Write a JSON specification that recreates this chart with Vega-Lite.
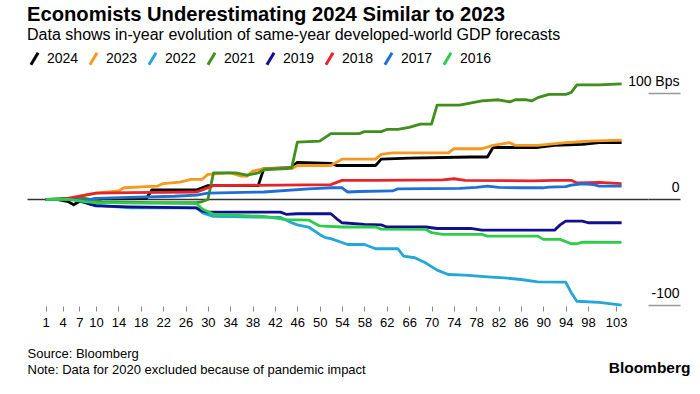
{
"$schema":"https://vega.github.io/schema/vega-lite/v6.json",
"width":621,"height":232,
"autosize":{"type":"none"},
"padding":{"left":27,"top":74,"right":52,"bottom":88},
"background":"white",
"config":{"view":{"stroke":null},"font":"Liberation Sans"},
"title":{"text":"Economists Underestimating 2024 Similar to 2023","subtitle":"Data shows in-year evolution of same-year developed-world GDP forecasts","anchor":"start","frame":"group","fontSize":20.2,"fontWeight":"bold","color":"#000","subtitleFontSize":16,"subtitleColor":"#000","subtitlePadding":2,"offset":8},
"data":{"values":[
{"s":"2024","w":1,"v":0},{"s":"2024","w":3,"v":0},{"s":"2024","w":5,"v":-2},{"s":"2024","w":6,"v":-5},{"s":"2024","w":7,"v":-2},{"s":"2024","w":9,"v":-1},{"s":"2024","w":10,"v":1},{"s":"2024","w":19,"v":1},{"s":"2024","w":20,"v":9},{"s":"2024","w":28,"v":9},{"s":"2024","w":29,"v":11},{"s":"2024","w":30,"v":13},{"s":"2024","w":39,"v":13},{"s":"2024","w":40,"v":29},{"s":"2024","w":45,"v":30},{"s":"2024","w":46,"v":35},{"s":"2024","w":52,"v":34},{"s":"2024","w":53,"v":32},{"s":"2024","w":60,"v":32},{"s":"2024","w":61,"v":38},{"s":"2024","w":66,"v":39},{"s":"2024","w":77,"v":40},{"s":"2024","w":80,"v":40},{"s":"2024","w":81,"v":49},{"s":"2024","w":89,"v":49},{"s":"2024","w":92,"v":51},{"s":"2024","w":97,"v":52},{"s":"2024","w":100,"v":53.5},{"s":"2024","w":104,"v":53.5},
{"s":"2023","w":1,"v":0},{"s":"2023","w":4,"v":0},{"s":"2023","w":5,"v":1},{"s":"2023","w":8,"v":4},{"s":"2023","w":10,"v":6},{"s":"2023","w":14,"v":8},{"s":"2023","w":15,"v":11},{"s":"2023","w":21,"v":12.6},{"s":"2023","w":22,"v":15},{"s":"2023","w":25,"v":16.4},{"s":"2023","w":27,"v":19},{"s":"2023","w":29,"v":19},{"s":"2023","w":30,"v":23.6},{"s":"2023","w":34,"v":25},{"s":"2023","w":36,"v":22},{"s":"2023","w":37,"v":22},{"s":"2023","w":38,"v":26.7},{"s":"2023","w":40,"v":29},{"s":"2023","w":45,"v":29},{"s":"2023","w":46,"v":32},{"s":"2023","w":52,"v":32},{"s":"2023","w":54,"v":38},{"s":"2023","w":60,"v":38},{"s":"2023","w":61,"v":42.5},{"s":"2023","w":63,"v":44},{"s":"2023","w":73,"v":44},{"s":"2023","w":74,"v":47.8},{"s":"2023","w":79,"v":47.8},{"s":"2023","w":81,"v":51},{"s":"2023","w":84,"v":53.5},{"s":"2023","w":85,"v":51},{"s":"2023","w":89,"v":51},{"s":"2023","w":94,"v":53.5},{"s":"2023","w":98,"v":55},{"s":"2023","w":104,"v":56},
{"s":"2022","w":1,"v":0},{"s":"2022","w":7,"v":0},{"s":"2022","w":8,"v":-2},{"s":"2022","w":9,"v":-4.7},{"s":"2022","w":12,"v":-6.3},{"s":"2022","w":16,"v":-8},{"s":"2022","w":28,"v":-8},{"s":"2022","w":29,"v":-12.6},{"s":"2022","w":31,"v":-16},{"s":"2022","w":43,"v":-17},{"s":"2022","w":45,"v":-22},{"s":"2022","w":46,"v":-24},{"s":"2022","w":48,"v":-26},{"s":"2022","w":50,"v":-33},{"s":"2022","w":51,"v":-36},{"s":"2022","w":52,"v":-37},{"s":"2022","w":55,"v":-42.5},{"s":"2022","w":58,"v":-42.5},{"s":"2022","w":60,"v":-46.5},{"s":"2022","w":64,"v":-46.5},{"s":"2022","w":65,"v":-53.5},{"s":"2022","w":67,"v":-55},{"s":"2022","w":69,"v":-60},{"s":"2022","w":71,"v":-66.7},{"s":"2022","w":73,"v":-70.8},{"s":"2022","w":76,"v":-71.4},{"s":"2022","w":80,"v":-73},{"s":"2022","w":83,"v":-74},{"s":"2022","w":86,"v":-75.5},{"s":"2022","w":89,"v":-77.7},{"s":"2022","w":94,"v":-78},{"s":"2022","w":95,"v":-88},{"s":"2022","w":96,"v":-96},{"s":"2022","w":100,"v":-97},{"s":"2022","w":104,"v":-99.7},
{"s":"2021","w":1,"v":0},{"s":"2021","w":4,"v":1},{"s":"2021","w":8,"v":1},{"s":"2021","w":11,"v":-2},{"s":"2021","w":20,"v":-3},{"s":"2021","w":28,"v":-3},{"s":"2021","w":29,"v":-2},{"s":"2021","w":30,"v":0},{"s":"2021","w":31,"v":25},{"s":"2021","w":35,"v":25},{"s":"2021","w":37,"v":23},{"s":"2021","w":39,"v":25},{"s":"2021","w":40,"v":28},{"s":"2021","w":44,"v":29},{"s":"2021","w":45,"v":30},{"s":"2021","w":46,"v":54},{"s":"2021","w":50,"v":55},{"s":"2021","w":52,"v":62},{"s":"2021","w":57,"v":62},{"s":"2021","w":58,"v":64},{"s":"2021","w":61,"v":64},{"s":"2021","w":62,"v":66},{"s":"2021","w":64,"v":66},{"s":"2021","w":66,"v":68},{"s":"2021","w":68,"v":71},{"s":"2021","w":70,"v":71},{"s":"2021","w":71,"v":89},{"s":"2021","w":75,"v":89},{"s":"2021","w":79,"v":93},{"s":"2021","w":82,"v":94},{"s":"2021","w":84,"v":92},{"s":"2021","w":85,"v":94},{"s":"2021","w":87,"v":94},{"s":"2021","w":88,"v":93},{"s":"2021","w":89,"v":96},{"s":"2021","w":91,"v":99},{"s":"2021","w":94,"v":99},{"s":"2021","w":95,"v":101},{"s":"2021","w":96,"v":108},{"s":"2021","w":100,"v":108},{"s":"2021","w":104,"v":109},
{"s":"2019","w":1,"v":0},{"s":"2019","w":6,"v":0},{"s":"2019","w":8,"v":-3},{"s":"2019","w":10,"v":-6},{"s":"2019","w":16,"v":-7},{"s":"2019","w":28,"v":-8},{"s":"2019","w":29,"v":-11},{"s":"2019","w":30,"v":-12},{"s":"2019","w":43,"v":-12},{"s":"2019","w":44,"v":-14},{"s":"2019","w":46,"v":-13.5},{"s":"2019","w":52,"v":-13.5},{"s":"2019","w":53,"v":-18},{"s":"2019","w":54,"v":-22},{"s":"2019","w":58,"v":-23.6},{"s":"2019","w":61,"v":-24},{"s":"2019","w":62,"v":-26},{"s":"2019","w":69,"v":-26},{"s":"2019","w":71,"v":-27.4},{"s":"2019","w":77,"v":-27.4},{"s":"2019","w":79,"v":-29},{"s":"2019","w":92,"v":-29},{"s":"2019","w":93,"v":-24},{"s":"2019","w":94,"v":-20.4},{"s":"2019","w":97,"v":-20.4},{"s":"2019","w":98,"v":-22},{"s":"2019","w":104,"v":-22},
{"s":"2018","w":1,"v":0},{"s":"2018","w":4,"v":0},{"s":"2018","w":6,"v":2},{"s":"2018","w":10,"v":6},{"s":"2018","w":16,"v":6.5},{"s":"2018","w":28,"v":7},{"s":"2018","w":29,"v":9},{"s":"2018","w":30,"v":11},{"s":"2018","w":31,"v":13},{"s":"2018","w":52,"v":14},{"s":"2018","w":54,"v":18},{"s":"2018","w":60,"v":18},{"s":"2018","w":72,"v":18.5},{"s":"2018","w":74,"v":19.5},{"s":"2018","w":76,"v":18},{"s":"2018","w":88,"v":17.5},{"s":"2018","w":92,"v":18},{"s":"2018","w":95,"v":18},{"s":"2018","w":96,"v":15.5},{"s":"2018","w":100,"v":16},{"s":"2018","w":104,"v":15},
{"s":"2017","w":1,"v":0},{"s":"2017","w":6,"v":0},{"s":"2017","w":8,"v":-1},{"s":"2017","w":10,"v":1},{"s":"2017","w":16,"v":2},{"s":"2017","w":24,"v":3},{"s":"2017","w":28,"v":4},{"s":"2017","w":30,"v":6},{"s":"2017","w":40,"v":7},{"s":"2017","w":48,"v":10},{"s":"2017","w":52,"v":11},{"s":"2017","w":54,"v":11},{"s":"2017","w":55,"v":7},{"s":"2017","w":57,"v":7.5},{"s":"2017","w":63,"v":8},{"s":"2017","w":64,"v":10},{"s":"2017","w":75,"v":10.4},{"s":"2017","w":78,"v":11.3},{"s":"2017","w":80,"v":12.5},{"s":"2017","w":82,"v":11.3},{"s":"2017","w":86,"v":11},{"s":"2017","w":90,"v":11},{"s":"2017","w":91,"v":11.6},{"s":"2017","w":94,"v":12},{"s":"2017","w":95,"v":13.5},{"s":"2017","w":97,"v":14.8},{"s":"2017","w":99,"v":14},{"s":"2017","w":100,"v":12.5},{"s":"2017","w":104,"v":12.5},
{"s":"2016","w":1,"v":0},{"s":"2016","w":5,"v":0},{"s":"2016","w":8,"v":-2},{"s":"2016","w":10,"v":-3},{"s":"2016","w":28,"v":-4},{"s":"2016","w":29,"v":-9},{"s":"2016","w":31,"v":-14},{"s":"2016","w":40,"v":-16},{"s":"2016","w":44,"v":-19},{"s":"2016","w":48,"v":-19.5},{"s":"2016","w":50,"v":-25},{"s":"2016","w":54,"v":-26},{"s":"2016","w":60,"v":-26},{"s":"2016","w":61,"v":-28},{"s":"2016","w":69,"v":-28.3},{"s":"2016","w":70,"v":-31.4},{"s":"2016","w":72,"v":-33},{"s":"2016","w":79,"v":-33},{"s":"2016","w":80,"v":-34.6},{"s":"2016","w":89,"v":-34.6},{"s":"2016","w":90,"v":-37.7},{"s":"2016","w":93,"v":-37.7},{"s":"2016","w":95,"v":-41.8},{"s":"2016","w":96,"v":-41.8},{"s":"2016","w":97,"v":-40.3},{"s":"2016","w":104,"v":-40.5}
]},
"mark":{"type":"line","strokeWidth":2.8,"strokeJoin":"round"},
"encoding":{
"x":{"field":"w","type":"quantitative","scale":{"domain":[-2.35,108.72],"nice":false,"zero":false},
"axis":{"values":[1,4,7,10,14,18,22,26,30,34,38,42,46,50,54,58,62,66,70,74,78,82,86,90,94,98,103],"domain":false,"grid":false,"tickSize":5,"tickColor":"#888","tickWidth":1,"labelFontSize":13,"labelPadding":5,"labelColor":"#000","labelFlush":false,"labelOverlap":false,"labelBound":false,
"title":["Source: Bloomberg","Note: Data for 2020 excluded because of pandemic impact"],"titleX":0,"titleY":41,"titleAlign":"left","titleAnchor":"start","titleBaseline":"top","titleFontSize":13,"titleFontWeight":"normal","titleLineHeight":16,"titleColor":"#000"}},
"y":{"field":"v","type":"quantitative","scale":{"domain":[-100.5,118.3],"nice":false,"zero":false},
"axis":{"orient":"right","values":[-100,0,100],"domain":false,"tickSize":32,"tickWidth":1.5,
"tickColor":{"condition":{"test":"datum.value === 0","value":"#333"},"value":"#999"},
"grid":true,"gridColor":"#333","gridWidth":1.3,"gridOpacity":{"condition":{"test":"datum.value === 0","value":1},"value":0},
"labelExpr":"datum.value === 100 ? '100 Bps' : (datum.value === 0 ? '0' : '-100')","labelAlign":"right","labelPadding":-1,"labelBaseline":"alphabetic","labelOffset":-8,"labelFontSize":14,"labelColor":"#000","labelFlush":false,"labelOverlap":false,"labelBound":false,
"title":"Bloomberg","titleAngle":0,"titleX":42,"titleY":293,"titleAlign":"right","titleBaseline":"middle","titleFontSize":15.5,"titleFontWeight":"bold","titleColor":"#000"}},
"color":{"field":"s","type":"nominal","scale":{"domain":["2024","2023","2022","2021","2019","2018","2017","2016"],"range":["#000000","#f39a1f","#22a7d8","#3f8f1a","#10108e","#e8242b","#1f6fd6","#2ecc4a"]},
"legend":{"orient":"none","legendX":0,"legendY":-23,"direction":"horizontal","columns":8,"title":null,"symbolType":"M-0.6,1L0.6,-1","symbolSize":144,"symbolStrokeWidth":3,"labelFontSize":14,"labelColor":"#000","labelOffset":5,"columnPadding":4}}
}
}
